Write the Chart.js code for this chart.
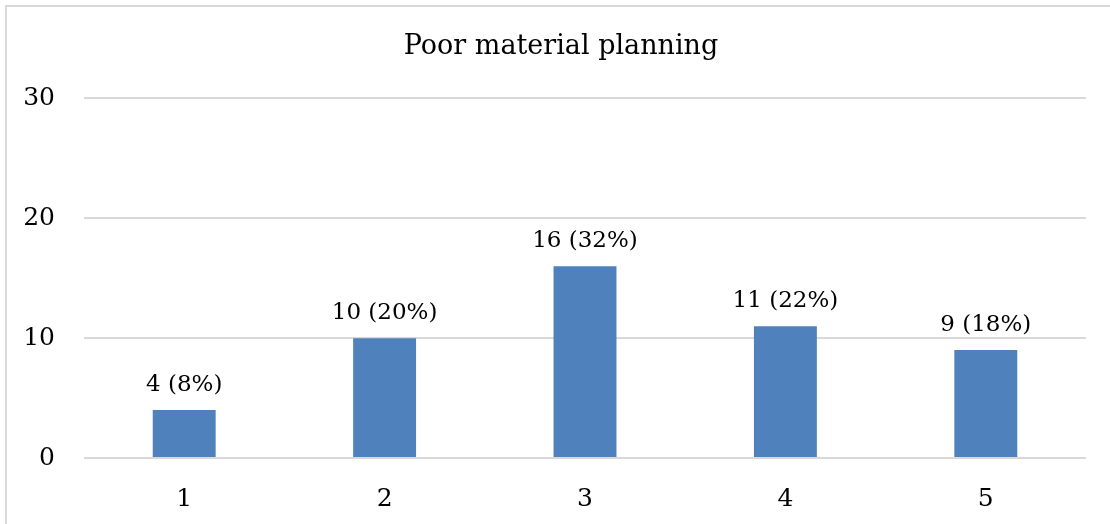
<!DOCTYPE html>
<html>
<head>
<meta charset="utf-8">
<script src="https://cdn.jsdelivr.net/npm/chart.js@4/dist/chart.umd.min.js"></script>
<style>
    html, body { margin: 0; padding: 0; background: #fff; }
    #wrap { width: 1110px; height: 524px; position: relative; }
</style>
</head>
<body>
<div id="wrap"><canvas id="chart" width="1110" height="524"></canvas></div>
<script>
const categories = ['1', '2', '3', '4', '5'];
const counts = [4, 10, 16, 11, 9];
const percents = [8, 20, 32, 22, 18];
const yTicks = [0, 10, 20, 30];

const FONT = "'DejaVu Serif', serif";

// outer frame of the chart box (only top and left edges are visible)
const framePlugin = {
    id: 'frame',
    afterLayout(chart) {
        // title is centred on the whole box, not on the plot
        const t = chart.titleBlock;
        if (t) { t.left += 18; t.right += 18; }
    },
    beforeDraw(chart) {
        const ctx = chart.ctx;
        ctx.save();
        ctx.strokeStyle = '#d9d9d9';
        ctx.lineWidth = 2;
        ctx.beginPath();
        ctx.moveTo(6, chart.height);
        ctx.lineTo(6, 6);
        ctx.lineTo(chart.width, 6);
        ctx.stroke();
        ctx.restore();
    }
};

// "count (pct%)" above each bar
const valueLabels = {
    id: 'valueLabels',
    afterDatasetsDraw(chart) {
        const ctx = chart.ctx;
        const meta = chart.getDatasetMeta(0);
        ctx.save();
        ctx.font = '23px ' + FONT;
        ctx.fillStyle = '#000';
        ctx.textAlign = 'center';
        ctx.textBaseline = 'middle';
        meta.data.forEach((bar, i) => {
            ctx.fillText(counts[i] + ' (' + percents[i] + '%)', bar.x, bar.y - 25);
        });
        ctx.restore();
    }
};

new Chart(document.getElementById('chart'), {
    type: 'bar',
    data: {
        labels: categories,
        datasets: [{
            data: counts,
            backgroundColor: '#4f81bd',
            categoryPercentage: 1,
            barPercentage: 0.314
        }]
    },
    options: {
        responsive: false,
        animation: false,
        layout: { padding: { left: 0, right: 24, top: 0, bottom: 0 } },
        plugins: {
            legend: { display: false },
            tooltip: { enabled: false },
            title: {
                display: true,
                text: 'Poor material planning',
                color: '#000',
                font: { family: FONT, size: 27, weight: 'normal', lineHeight: 1.2 },
                padding: { top: 31, bottom: 35 }
            }
        },
        scales: {
            x: {
                grid: { display: false },
                border: { display: false },
                ticks: {
                    color: '#000',
                    font: { family: FONT, size: 25 },
                    padding: 18
                },
                afterFit(scale) { scale.height = 66; }
            },
            y: {
                min: 0,
                max: 30,
                afterBuildTicks(scale) { scale.ticks = yTicks.map(v => ({ value: v })); },
                grid: { color: '#d9d9d9', lineWidth: 2, drawTicks: false },
                border: { display: false },
                ticks: {
                    color: '#000',
                    font: { family: FONT, size: 25 },
                    padding: 29
                },
                afterFit(scale) { scale.width = 84; }
            }
        }
    },
    plugins: [framePlugin, valueLabels]
});
</script>
</body>
</html>
